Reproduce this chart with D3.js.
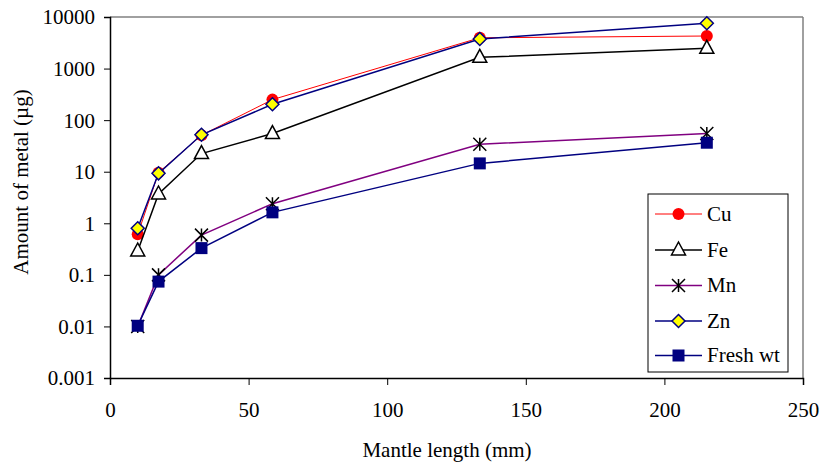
<!DOCTYPE html>
<html><head><meta charset="utf-8">
<script src="https://cdn.jsdelivr.net/npm/d3@7"></script>
<style>body{margin:0;background:#fff}svg{display:block}</style>
</head><body><svg id="c" width="824" height="467"></svg>
<script>
const mantleLength = [10, 17.5, 33, 58.6, 133.4, 215.3];
const cu = [0.61, 9.6, 51, 250, 3950, 4280];
const fe = [0.29, 3.7, 22.5, 55, 1650, 2470];
const mn = [0.01, 0.10, 0.59, 2.4, 34, 55];
const zn = [0.80, 9.3, 52, 203, 3750, 7550];
const freshWt = [0.0103, 0.074, 0.33, 1.63, 14.5, 36.5];
const xTicks = [0, 50, 100, 150, 200, 250];
const yTicks = [0.001, 0.01, 0.1, 1, 10, 100, 1000, 10000];
const seriesNames = ["Cu", "Fe", "Mn", "Zn", "Fresh wt"];

const FONT = "'Liberation Serif'";
const FS = 21;

const series = [
  {name: seriesNames[0], values: cu, line: "#ff0000", lw: 1, marker: "circle", fill: "#ff0000", stroke: "#ff0000"},
  {name: seriesNames[1], values: fe, line: "#000000", lw: 1.5, marker: "triangle", fill: "#ffffff", stroke: "#000000"},
  {name: seriesNames[2], values: mn, line: "#800080", lw: 1.5, marker: "star", fill: "none", stroke: "#000000"},
  {name: seriesNames[3], values: zn, line: "#000080", lw: 1.5, marker: "diamond", fill: "#ffff00", stroke: "#000080"},
  {name: seriesNames[4], values: freshWt, line: "#000080", lw: 1.5, marker: "square", fill: "#000080", stroke: "#000080"}
];

const svg = d3.select("#c");
const L = 110, R = 803, T = 17, B = 378;
const x = d3.scaleLinear().domain([0, 250]).range([L, R]);
const y = d3.scaleLog().domain([0.001, 10000]).range([B, T]);

svg.append("line").attr("x1", L).attr("x2", R).attr("y1", T).attr("y2", T).attr("stroke", "#808080").attr("stroke-width", 1.5);
svg.append("line").attr("x1", R).attr("x2", R).attr("y1", T).attr("y2", B).attr("stroke", "#808080").attr("stroke-width", 1.5);

const fmt = d => d >= 1 ? String(d) : String(+d.toPrecision(1));
const yAxis = svg.append("g").attr("transform", `translate(${L},0)`)
  .call(d3.axisLeft(y).tickValues(yTicks).tickFormat(fmt).tickSize(6).tickPadding(9));
const xAxis = svg.append("g").attr("transform", `translate(0,${B})`)
  .call(d3.axisBottom(x).tickValues(xTicks).tickFormat(d3.format("d")).tickSize(7).tickPadding(20));
[yAxis, xAxis].forEach(a => {
  a.attr("font-family", null).attr("font-size", null);
  a.select(".domain").attr("stroke", "#000").attr("stroke-width", 1.5);
  a.selectAll(".tick line").attr("stroke", "#000").attr("stroke-width", 1);
  a.selectAll(".tick text").attr("fill", "#000").attr("font-family", FONT).attr("font-size", FS);
});
xAxis.selectAll(".tick text").attr("y", 39).attr("dy", 0);
yAxis.selectAll(".tick text").attr("dy", "0.33em");

svg.append("text").attr("x", 447).attr("y", 456.5).attr("text-anchor", "middle")
  .attr("font-family", FONT).attr("font-size", FS).text("Mantle length (mm)");
svg.append("text").attr("transform", "translate(28,182) rotate(-90)").attr("text-anchor", "middle")
  .attr("font-family", FONT).attr("font-size", FS).text("Amount of metal (µg)");

function drawMarker(g, s, cx, cy) {
  if (s.marker === "circle") {
    g.append("circle").attr("cx", cx).attr("cy", cy).attr("r", 6).attr("fill", s.fill);
  } else if (s.marker === "triangle") {
    g.append("path").attr("d", `M${cx},${cy-8}L${cx+7},${cy+5}L${cx-7},${cy+5}Z`).attr("fill", s.fill).attr("stroke", s.stroke).attr("stroke-width", 1.5);
  } else if (s.marker === "star") {
    const r = 6.5;
    g.append("path").attr("d", `M${cx},${cy-r}V${cy+r}M${cx-r},${cy-r}L${cx+r},${cy+r}M${cx+r},${cy-r}L${cx-r},${cy+r}`).attr("stroke", s.stroke).attr("stroke-width", 1.5).attr("fill", "none");
  } else if (s.marker === "diamond") {
    g.append("path").attr("d", `M${cx},${cy-6.5}L${cx+6.5},${cy}L${cx},${cy+6.5}L${cx-6.5},${cy}Z`).attr("fill", s.fill).attr("stroke", s.stroke).attr("stroke-width", 1.5);
  } else if (s.marker === "square") {
    g.append("rect").attr("x", cx-6).attr("y", cy-6).attr("width", 12).attr("height", 12).attr("fill", s.fill);
  }
}

const line = d3.line().x(d => x(d[0])).y(d => y(d[1]));
series.forEach(s => {
  const pts = mantleLength.map((m, i) => [m, s.values[i]]);
  svg.append("path").attr("d", line(pts)).attr("fill", "none").attr("stroke", s.line).attr("stroke-width", s.lw);
  const g = svg.append("g");
  pts.forEach(p => drawMarker(g, s, x(p[0]), y(p[1])));
});

const lg = svg.append("g");
lg.append("rect").attr("x", 648).attr("y", 194).attr("width", 140).attr("height", 178).attr("fill", "#fff").attr("stroke", "#000").attr("stroke-width", 1);
const ly = [214, 250, 285.5, 321, 355.5];
series.forEach((s, i) => {
  lg.append("line").attr("x1", 655).attr("x2", 702).attr("y1", ly[i]).attr("y2", ly[i]).attr("stroke", s.line).attr("stroke-width", s.lw);
  drawMarker(lg, s, 678.5, ly[i]);
  lg.append("text").attr("x", 707).attr("y", ly[i]).attr("dy", "0.33em")
    .attr("font-family", FONT).attr("font-size", FS).text(s.name);
});
</script></body></html>
